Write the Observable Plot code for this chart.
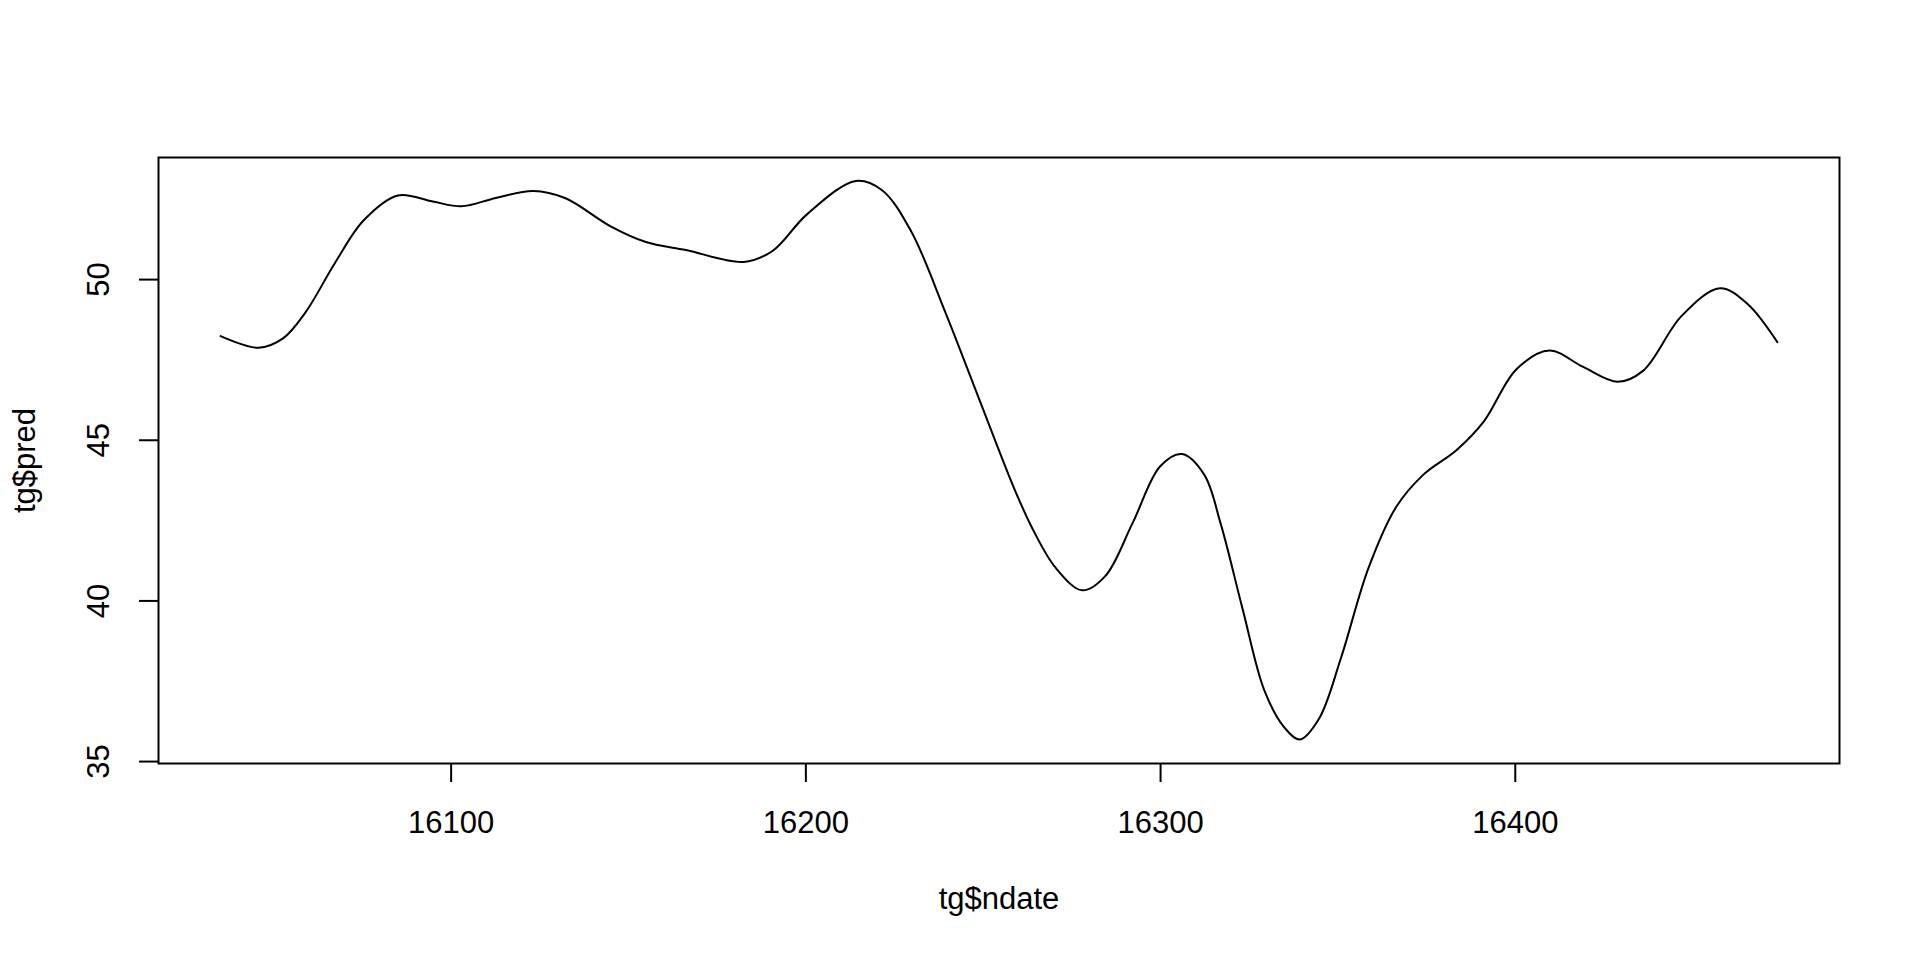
<!DOCTYPE html>
<html>
<head>
<meta charset="utf-8">
<script src="https://cdn.jsdelivr.net/npm/d3@7"></script>
<script src="https://cdn.jsdelivr.net/npm/@observablehq/plot@0.6"></script>
<style>
  html, body { margin: 0; padding: 0; background: white; }
</style>
</head>
<body>
<script>
// Data
const ndate = [16035, 16045.7, 16052.6, 16059.0, 16067.2, 16075.3, 16085.0, 16094.8, 16102.9, 16112.6,
  16123.2, 16132.1, 16145.1, 16154.9, 16166.2, 16182.5, 16190.6, 16200.3, 16214.1, 16221.4,
  16229.6, 16239.3, 16249.1, 16258.8, 16264.3, 16270.5, 16277.9, 16284.4, 16292.1, 16299.9,
  16306.0, 16312.3, 16316.9, 16323.1, 16329.2, 16334.7, 16339.3, 16344.7, 16350.9, 16358.6,
  16366.4, 16374.1, 16383.4, 16391.1, 16400.4, 16409.7, 16419.0, 16428.9, 16436.0, 16446.9,
  16457.7, 16465.4, 16473.9];
const pred = [48.24, 47.88, 48.17, 48.99, 50.51, 51.84, 52.62, 52.43, 52.28, 52.54,
  52.76, 52.54, 51.65, 51.17, 50.92, 50.55, 50.89, 52.03, 53.07, 52.79,
  51.52, 48.99, 46.21, 43.48, 42.16, 41.02, 40.33, 40.77, 42.42, 44.19,
  44.57, 43.93, 42.42, 39.76, 37.23, 36.09, 35.69, 36.34, 38.24, 41.02,
  42.92, 43.93, 44.69, 45.58, 47.22, 47.79, 47.29, 46.82, 47.16, 48.87,
  49.73, 49.25, 48.05];
const xTicks = [16100, 16200, 16300, 16400];
const yTicks = [35, 40, 45, 50];
const xTitle = "tg$ndate";
const yTitle = "tg$pred";

const data = ndate.map((d, i) => ({ndate: d, pred: pred[i]}));
const FS = 31;

const chart = Plot.plot({
  width: 1920,
  height: 960,
  marginLeft: 158,
  marginRight: 81,
  marginTop: 157,
  marginBottom: 197,
  style: {fontFamily: "'Liberation Sans', Arial, Helvetica, sans-serif", fontSize: FS + "px", background: "white", color: "black"},
  x: {domain: [16017.5, 16491.4], axis: null},
  y: {domain: [34.94, 53.80], axis: null},
  marks: [
    Plot.axisX({ticks: xTicks, tickSize: 19, tickPadding: 28, tickFormat: d => String(d), fontSize: FS, label: null, strokeWidth: 2}),
    Plot.axisY({ticks: yTicks, tickSize: 19, tickFormat: () => "", label: null, strokeWidth: 2}),
    Plot.text(yTicks, {y: d => d, text: d => String(d), frameAnchor: "left", dx: -59, rotate: -90, textAnchor: "middle", lineAnchor: "middle", fontSize: FS, fill: "black"}),
    Plot.text([xTitle], {text: d => d, frameAnchor: "bottom", dy: 145, lineAnchor: "bottom", textAnchor: "middle", fontSize: FS, fill: "black"}),
    Plot.text([yTitle], {text: d => d, frameAnchor: "left", dx: -124, rotate: -90, lineAnchor: "bottom", textAnchor: "middle", fontSize: FS, fill: "black"}),
    Plot.line(data, {x: "ndate", y: "pred", curve: "catmull-rom", stroke: "black", strokeWidth: 2}),
    Plot.frame({stroke: "black", strokeWidth: 2})
  ]
});
document.body.appendChild(chart);
</script>
</body>
</html>
